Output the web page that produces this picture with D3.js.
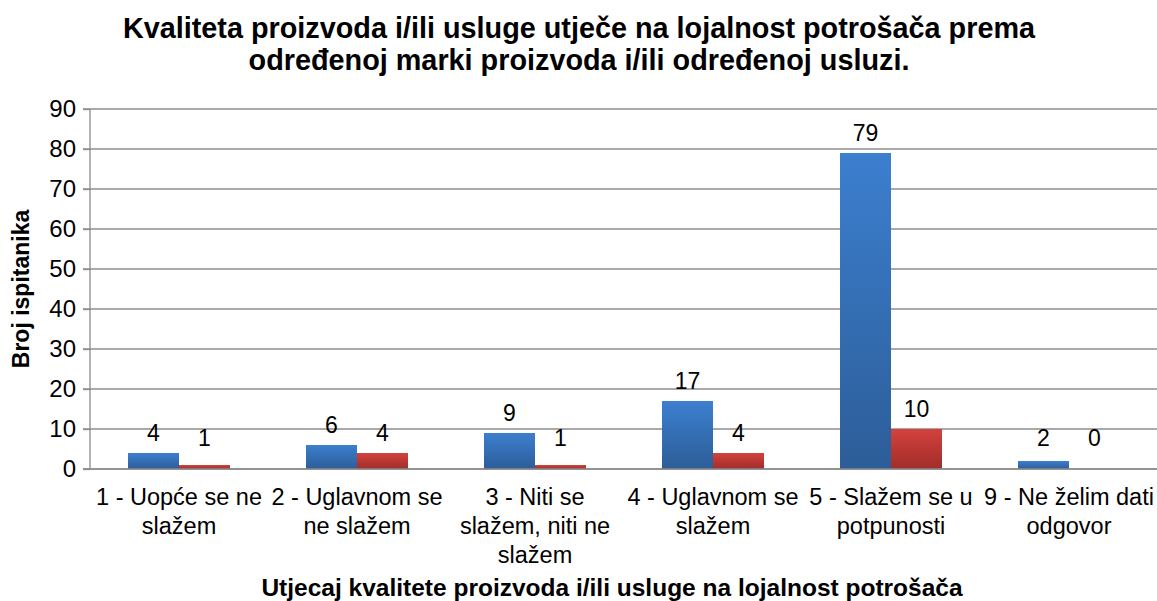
<!DOCTYPE html>
<html>
<head>
<meta charset="utf-8">
<script src="https://cdn.jsdelivr.net/npm/d3@7"></script>
<style>
  body { margin: 0; background: #fff; }
  svg { font-family: "Liberation Sans", Arial, sans-serif; }
</style>
</head>
<body>
<svg id="chart" width="1157" height="601"></svg>
<script>
var categories = [
  ["1 - Uopće se ne", "slažem"],
  ["2 - Uglavnom se", "ne slažem"],
  ["3 - Niti se", "slažem, niti ne", "slažem"],
  ["4 - Uglavnom se", "slažem"],
  ["5 - Slažem se u", "potpunosti"],
  ["9 - Ne želim dati", "odgovor"]
];
var seriesBlue = [4, 6, 9, 17, 79, 2];
var seriesRed = [1, 4, 1, 4, 10, 0];
var yTicks = [0, 10, 20, 30, 40, 50, 60, 70, 80, 90];

var svg = d3.select("#chart"),
  plotLeft = 90,
  plotRight = 1158,
  plotTop = 109,
  plotBottom = 469;

var defs = svg.append("defs");
var gb = defs.append("linearGradient").attr("id", "gBlue").attr("x1", 0).attr("y1", 0).attr("x2", 0).attr("y2", 1);
gb.append("stop").attr("offset", "0%").attr("stop-color", "#3c7fcf");
gb.append("stop").attr("offset", "100%").attr("stop-color", "#2c5d98");
var gr = defs.append("linearGradient").attr("id", "gRed").attr("x1", 0).attr("y1", 0).attr("x2", 0).attr("y2", 1);
gr.append("stop").attr("offset", "0%").attr("stop-color", "#d3423d");
gr.append("stop").attr("offset", "100%").attr("stop-color", "#a02d2a");

var idx = d3.range(categories.length);
var xScale = d3.scaleBand().domain(idx).range([plotLeft, plotRight]);
var yScale = d3.scaleLinear().domain([0, 90]).range([plotBottom, plotTop]);
var barW = 51;

// title
svg.append("text")
  .attr("text-anchor", "middle")
  .style("font-weight", "bold")
  .style("font-size", "28.8px")
  .selectAll("tspan")
  .data(["Kvaliteta proizvoda i/ili usluge utječe na lojalnost potrošača prema", "određenoj marki proizvoda i/ili određenoj usluzi."])
  .enter().append("tspan")
  .attr("x", 579)
  .attr("y", (d, i) => 38 + i * 32)
  .text(d => d);

// gridlines
svg.append("g")
  .selectAll("line")
  .data(yTicks)
  .enter().append("line")
  .attr("x1", plotLeft - 7).attr("x2", plotRight)
  .attr("y1", d => yScale(d)).attr("y2", d => yScale(d))
  .style("stroke", "#8c8c8c")
  .style("stroke-width", 1.3);

// y axis
var yAxis = svg.append("g")
  .attr("transform", "translate(" + plotLeft + ",0)")
  .call(d3.axisLeft(yScale).tickValues(yTicks).tickSize(7).tickPadding(7));
yAxis.select(".domain").remove();
yAxis.append("line").attr("y1", plotTop).attr("y2", plotBottom)
  .style("stroke", "#8c8c8c").style("stroke-width", 1.3);
yAxis.selectAll("line").style("stroke", "#8c8c8c").style("stroke-width", 1.3);
yAxis.selectAll("text").style("font-size", "24px").style("fill", "#000")
  .style("font-family", "Liberation Sans, Arial, sans-serif");

svg.append("text")
  .attr("transform", "translate(29," + (plotTop + plotBottom) / 2 + ")rotate(-90)")
  .attr("text-anchor", "middle")
  .style("font-weight", "bold")
  .style("font-size", "23px")
  .text("Broj ispitanika");

// bars
var bars = svg.append("g");
bars.selectAll(".b").data(seriesBlue).enter().append("rect")
  .attr("x", (d, i) => xScale(i) + xScale.bandwidth() / 2 - barW)
  .attr("y", d => yScale(d))
  .attr("width", barW)
  .attr("height", d => plotBottom - yScale(d))
  .style("fill", "url(#gBlue)");
bars.selectAll(".r").data(seriesRed).enter().append("rect")
  .attr("x", (d, i) => xScale(i) + xScale.bandwidth() / 2)
  .attr("y", d => yScale(d))
  .attr("width", barW)
  .attr("height", d => plotBottom - yScale(d))
  .style("fill", "url(#gRed)");

// x axis line
svg.append("line")
  .attr("x1", plotLeft - 7).attr("x2", plotRight)
  .attr("y1", plotBottom).attr("y2", plotBottom)
  .style("stroke", "#8c8c8c").style("stroke-width", 1.3);

// value labels
function labels(data, off) {
  svg.append("g").selectAll("text").data(data).enter().append("text")
    .attr("x", (d, i) => xScale(i) + xScale.bandwidth() / 2 + off)
    .attr("y", d => Math.min(yScale(d), 458) - 12)
    .attr("text-anchor", "middle")
    .style("font-size", "23px")
    .text(d => d);
}
labels(seriesBlue, -barW / 2);
labels(seriesRed, barW / 2);

// category labels
svg.append("g").selectAll("text").data(categories).enter().append("text")
  .attr("text-anchor", "middle")
  .style("font-size", "23.5px")
  .each(function (d, i) {
    d3.select(this).selectAll("tspan").data(d).enter().append("tspan")
      .attr("x", xScale(i) + xScale.bandwidth() / 2)
      .attr("y", (t, j) => 505 + j * 29)
      .text(t => t);
  });

svg.append("text")
  .attr("x", 612).attr("y", 596)
  .attr("text-anchor", "middle")
  .style("font-weight", "bold")
  .style("font-size", "24.5px")
  .text("Utjecaj kvalitete proizvoda i/ili usluge na lojalnost potrošača");
</script>
</body>
</html>
